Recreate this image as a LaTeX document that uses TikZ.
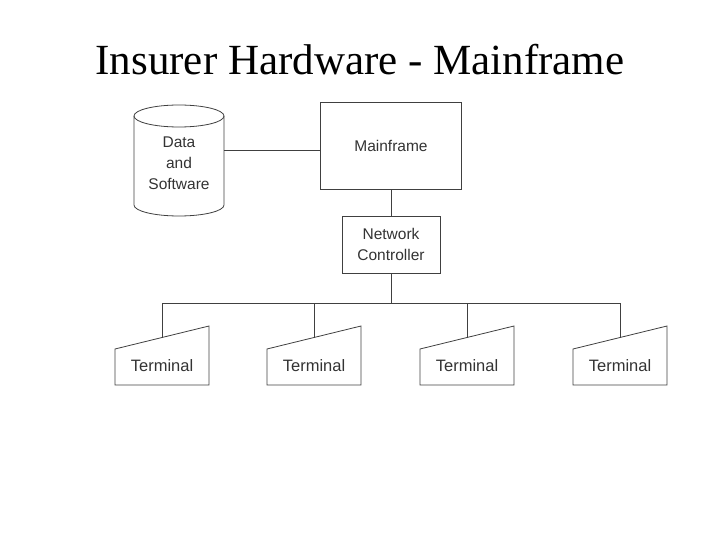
\documentclass[tikz,border=0pt]{standalone}
\usepackage{fontspec}
\setmainfont{Liberation Serif}
\newfontfamily\dsans{Liberation Sans}
\begin{document}
\begin{tikzpicture}[x=1pt,y=-1pt,
  ln/.style={draw=black!75,line width=0.8pt},
  lbl/.style={font=\dsans\fontsize{15.5}{21}\selectfont,text=black!80,align=center}]
\useasboundingbox (0,0) rectangle (720,540);
\node[font=\fontsize{43}{48}\selectfont] (title) at (360,60) {Insurer Hardware - Mainframe};
% mainframe
\node[ln,minimum width=141pt,minimum height=87pt,lbl] (mf) at (391,145.5) {Mainframe};
\node[ln,minimum width=98pt,minimum height=57pt,lbl] (nc) at (391,244.5) {Network\\Controller};
% cylinder
\draw[ln] (134,116) -- (134,205) arc[start angle=180,end angle=0,x radius=45,y radius=11] -- (224,116);
\draw[ln] (179,116) ellipse[x radius=45,y radius=11];
\node[lbl] (ds) at (179,163) {Data\\and\\Software};
\coordinate (dsr) at (224,150);
\draw[ln] (dsr) -- (mf.west|-dsr);
\draw[ln] (mf.south) -- (nc.north);
\coordinate (bus) at (391,303);
\draw[ln] (nc.south) -- (bus);
\draw[ln] (162,303) -- (621,303);
\foreach \i/\x in {1/115,2/267,3/420,4/573}{
  \draw[ln] (\x,385) -- (\x,349) -- (\x+94,326) -- (\x+94,385) -- cycle;
  \node[lbl,font=\dsans\fontsize{16.5}{18}\selectfont] (t\i) at (\x+47,366) {Terminal};
  \coordinate (c\i) at (\x+47,337.5);
  \draw[ln] (\x+47,303) -- (c\i);
}
\end{tikzpicture}
\end{document}
